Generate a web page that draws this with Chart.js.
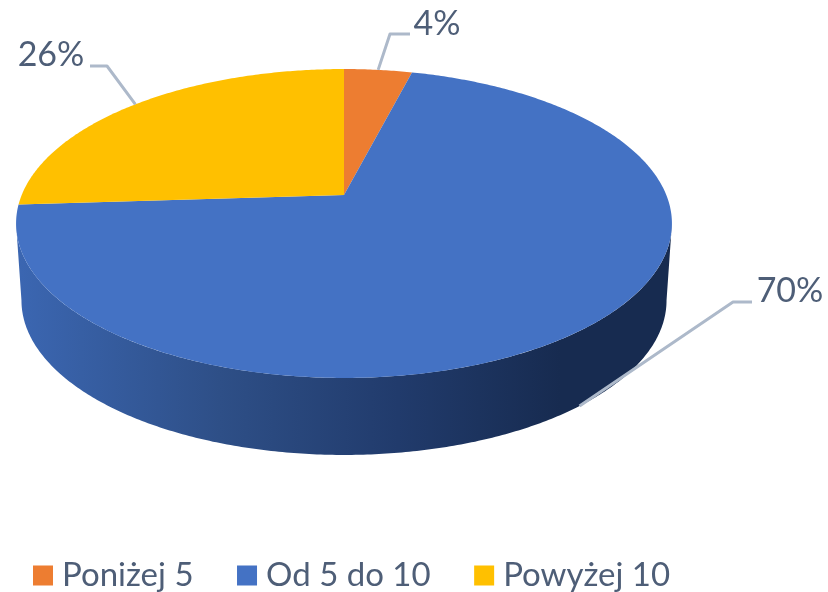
<!DOCTYPE html>
<html>
<head>
<meta charset="utf-8">
<title>Wykres</title>
<script src="https://cdn.jsdelivr.net/npm/chart.js@4"></script>
<style>
    html, body { margin: 0; background: #fff; }
    #chart { display: block; filter: blur(0.5px); }
</style>
</head>
<body>
<canvas id="chart" width="828" height="592"></canvas>
<script>
const categories = ['Poniżej 5', 'Od 5 do 10', 'Powyżej 10'];
const shares = [4, 70, 26];
const sliceColors = ['#ED7D31', '#4472C4', '#FFC000'];

// leader line elbow + label centre, one entry per slice
const elbows = [[390, 34, 410, 34], [733, 302, 752, 302], [107, 66, 90, 66]];
const labelSpots = [[437, 24], [790, 291], [51, 55]];

const TEXT_COLOR = '#4E5E77';
const LEADER_COLOR = '#ADB9CA';

// the tilted pie: top face and the bottom rim of the wall
const topFace = { x: 344, y: 195, r: 322.3, q: 149.2, p: 0.1845 };
const bottomRim = { x: 344, y: 272, r: 317, q: 149.2, p: 0.1845 };
const WIDEST = Math.asin(topFace.p); // disc angle where the ellipse is widest

// angle (canvas radians) on the disc -> point in perspective
function project(face, angle) {
    const u = Math.cos(angle);
    const v = Math.sin(angle);
    const w = 1 - face.p * v;
    return [face.x + u * face.r / w, face.y + v * face.q / w];
}

function tracePath(ctx, face, from, to) {
    const steps = Math.max(2, Math.ceil(Math.abs(to - from) / 0.01));
    for (let i = 0; i <= steps; i++) {
        const pt = project(face, from + (to - from) * i / steps);
        ctx.lineTo(pt[0], pt[1]);
    }
}

const pie3d = {
    id: 'pie3d',
    beforeDatasetsDraw(chart) {
        const ctx = chart.ctx;
        const arcs = chart.getDatasetMeta(0).data;

        // front wall
        const wall = ctx.createLinearGradient(20, 0, 560, 0);
        wall.addColorStop(0, '#3B66B1');
        wall.addColorStop(0.37, '#2E4F87');
        wall.addColorStop(0.7, '#213B6C');
        wall.addColorStop(1, '#172B50');
        ctx.save();
        ctx.fillStyle = wall;
        ctx.beginPath();
        tracePath(ctx, bottomRim, WIDEST, Math.PI - WIDEST);
        tracePath(ctx, topFace, Math.PI - WIDEST, WIDEST);
        ctx.closePath();
        ctx.fill();

        // top face, one slice per arc element
        arcs.forEach((arc, i) => {
            ctx.fillStyle = sliceColors[i];
            ctx.beginPath();
            ctx.moveTo(topFace.x, topFace.y);
            tracePath(ctx, topFace, arc.startAngle, arc.endAngle);
            ctx.closePath();
            ctx.fill();
        });

        // leader lines and labels
        ctx.strokeStyle = LEADER_COLOR;
        ctx.lineWidth = 3;
        ctx.lineJoin = 'round';
        ctx.font = '34px Lato';
        ctx.textAlign = 'center';
        ctx.textBaseline = 'middle';
        arcs.forEach((arc, i) => {
            const mid = (arc.startAngle + arc.endAngle) / 2;
            const inFront = Math.sin(mid) > 0;
            const start = project(inFront ? bottomRim : topFace, mid);
            ctx.beginPath();
            ctx.moveTo(start[0], start[1]);
            ctx.lineTo(elbows[i][0], elbows[i][1]);
            ctx.lineTo(elbows[i][2], elbows[i][3]);
            ctx.stroke();
            ctx.fillStyle = TEXT_COLOR;
            ctx.fillText(shares[i] + '%', labelSpots[i][0], labelSpots[i][1]);
        });
        ctx.restore();

        return false; // skip the flat arcs
    }
};

new Chart(document.getElementById('chart'), {
    type: 'pie',
    data: {
        labels: categories,
        datasets: [{
            data: shares,
            backgroundColor: sliceColors,
            borderWidth: 0
        }]
    },
    options: {
        responsive: false,
        animation: false,
        layout: { padding: { left: -10.5, right: 0, top: 0, bottom: -10 } },
        plugins: {
            tooltip: { enabled: false },
            legend: {
                position: 'bottom',
                align: 'start',
                labels: {
                    usePointStyle: true,
                    pointStyle: 'rect',
                    boxWidth: 5,
                    boxHeight: 20,
                    padding: 51,
                    color: TEXT_COLOR,
                    font: { family: 'Lato', size: 33 }
                }
            }
        }
    },
    plugins: [pie3d]
});
</script>
</body>
</html>
